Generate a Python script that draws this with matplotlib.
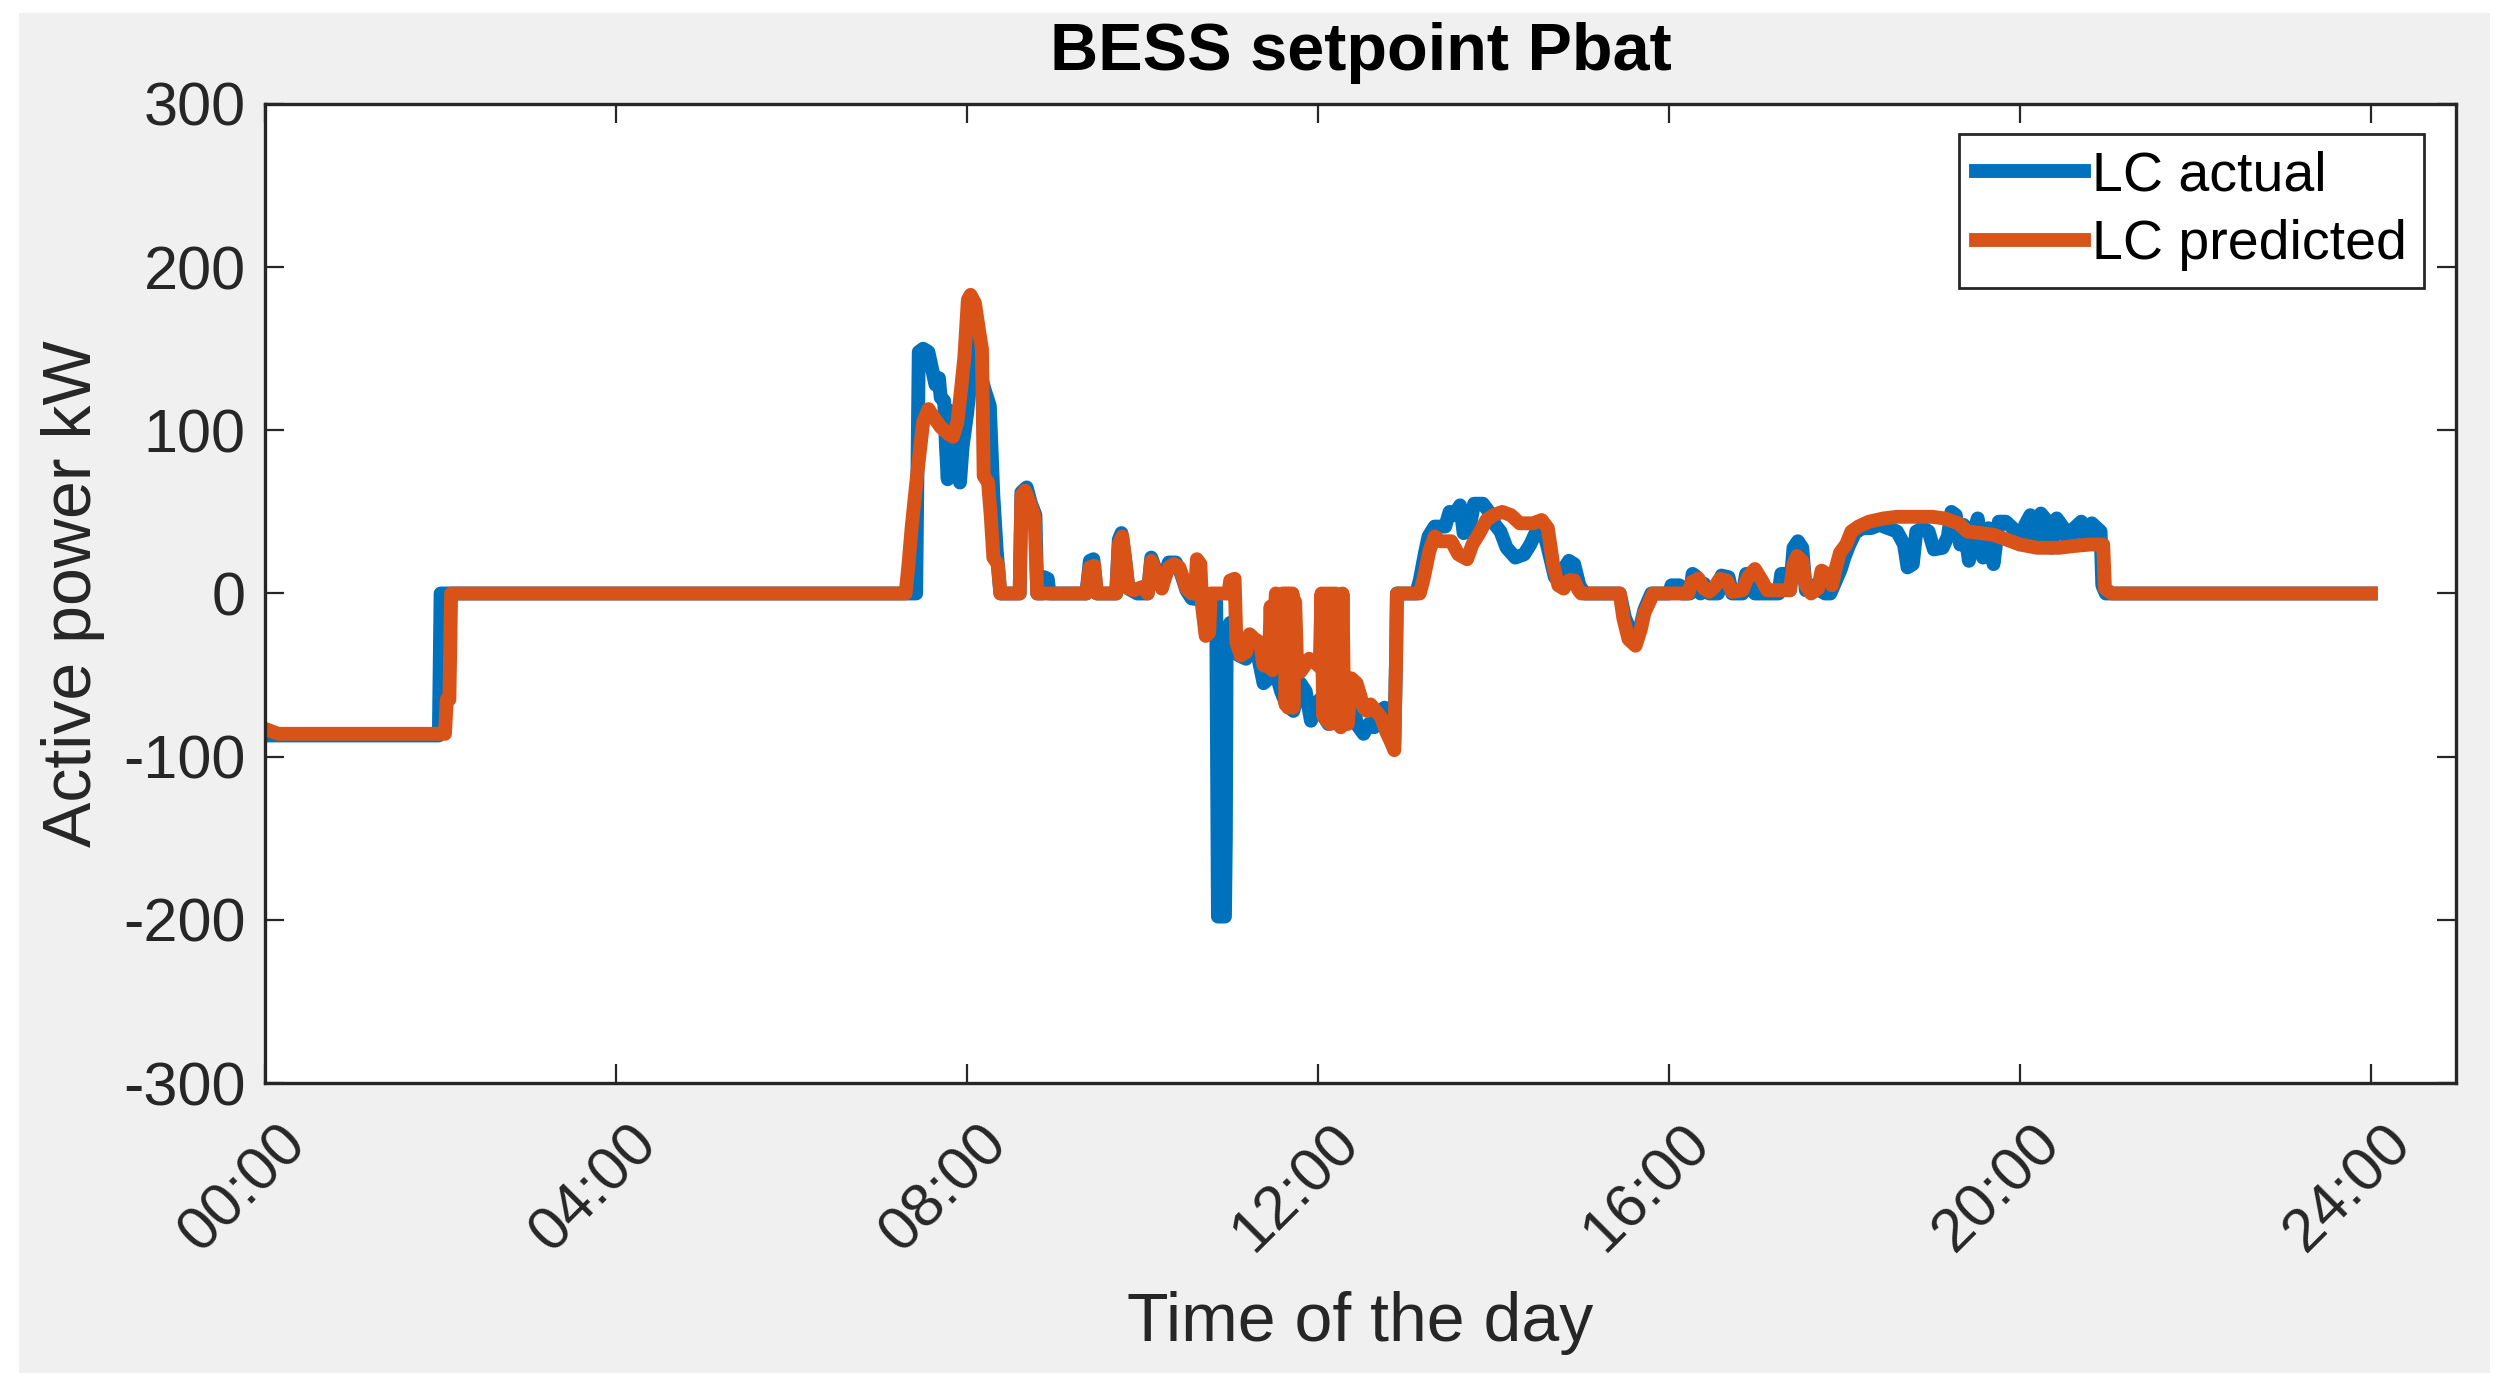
import matplotlib
matplotlib.use("Agg")
import matplotlib.pyplot as plt
import matplotlib.transforms as mtransforms
from matplotlib.patches import Rectangle

plt.rcParams['font.family'] = ['Liberation Sans', 'DejaVu Sans']
plt.rcParams['axes.unicode_minus'] = False

# time of day in hours, active power in kW
t_actual = [0, 1.98, 2.0, 7.42, 7.45, 7.50, 7.56, 7.60, 7.64, 7.68, 7.70, 7.74, 7.76, 7.78,
            7.80, 7.83, 7.86, 7.89, 7.92, 7.95, 8.0, 8.04, 8.08, 8.12, 8.15, 8.2, 8.26, 8.3,
            8.34, 8.38, 8.60, 8.62, 8.68, 8.73, 8.78, 8.80, 8.86, 8.88, 8.92, 8.94, 9.36,
            9.40, 9.44, 9.48, 9.70, 9.73, 9.76, 9.80, 9.84, 9.94, 10.06, 10.10, 10.14, 10.20,
            10.26, 10.30, 10.38, 10.44, 10.5, 10.56, 10.84, 10.86, 10.94, 10.95, 10.96, 11.0,
            11.04, 11.10, 11.18, 11.22, 11.3, 11.38, 11.44, 11.5, 11.58, 11.64, 11.72, 11.8,
            11.86, 11.92, 11.96, 12.02, 12.06, 12.12, 12.2, 12.28, 12.34, 12.4, 12.44, 12.52,
            12.58, 12.64, 12.7, 12.76, 12.82, 12.87, 12.89, 12.90, 13.12, 13.16, 13.22, 13.26,
            13.33, 13.45, 13.5, 13.55, 13.62, 13.66, 13.72, 13.78, 13.88, 13.95, 14.02, 14.08,
            14.15, 14.25, 14.35, 14.42, 14.48, 14.56, 14.62, 14.7, 14.8, 14.86, 14.92, 14.98,
            15.04, 15.44, 15.50, 15.58, 15.64, 15.72, 15.8, 16.0, 16.03, 16.12, 16.15, 16.24,
            16.27, 16.32, 16.36, 16.40, 16.46, 16.56, 16.6, 16.68, 16.72, 16.84, 16.88, 16.94,
            16.98, 17.25, 17.28, 17.34, 17.38, 17.42, 17.47, 17.52, 17.56, 17.62, 17.68, 17.78,
            17.84, 17.88, 17.92, 17.96, 18.0, 18.05, 18.12, 18.2, 18.3, 18.4, 18.5, 18.6, 18.68,
            18.72, 18.78, 18.82, 18.9, 18.96, 19.02, 19.12, 19.18, 19.22, 19.27, 19.32, 19.36,
            19.42, 19.48, 19.52, 19.58, 19.64, 19.7, 19.76, 19.84, 19.92, 20.0, 20.06, 20.12,
            20.18, 20.24, 20.3, 20.36, 20.42, 20.5, 20.56, 20.62, 20.7, 20.76, 20.82, 20.88,
            20.92, 20.94, 20.98, 24.0]
p_actual = [-87, -87, 0, 0, 148, 150, 148, 138, 128, 132, 120, 118, 90, 70,
            112, 80, 72, 100, 68, 90, 110, 130, 168, 160, 135, 125, 115, 60,
            25, 0, 0, 62, 65, 55, 48, 0, 0, 10, 9, 0, 0,
            20, 21, 0, 0, 33, 37, 22, 3, 0, 0, 22, 16, 5,
            12, 19, 19, 12, 2, -3, -5, -198, -198, -150, -22, -18,
            -25, -38, -40, -30, -34, -55, -52, -45, -60, -68, -72, -55,
            -60, -78, -72, -65, -75, -80, -78, -65, -58, -62, -80, -86,
            -80, -82, -72, -70, -85, -92, -40, 0, 0, 8, 25, 35,
            41, 41, 50, 48, 54, 37, 38, 55, 55, 50, 42, 38,
            28, 22, 24, 30, 37, 40, 28, 10, 15, 20, 18, 5,
            0, 0, -15, -25, -28, -10, 0, 0, 5, 5, 0, 0,
            12, 10, 0, 6, 0, 0, 11, 10, 0, 0, 12, 12,
            0, 0, 12, 12, 2, 28, 32, 28, 2, 5, 3, 0,
            0, 5, 10, 15, 22, 29, 37, 40, 40, 42, 40, 38, 30,
            16, 18, 38, 40, 38, 27, 28, 35, 50, 48, 30, 42,
            20, 38, 46, 22, 40, 18, 44, 44, 40, 31, 42, 48,
            30, 49, 45, 28, 46, 40, 30, 40, 44, 32, 43, 40,
            38, 5, 0, 0]

t_pred = [0, 0.15, 2.05, 2.07, 2.10, 2.12, 7.30, 7.33, 7.37, 7.43, 7.50, 7.56, 7.62, 7.70,
          7.78, 7.84, 7.89, 7.93, 7.97, 8.01, 8.04, 8.09, 8.14, 8.17, 8.19, 8.24, 8.27, 8.30,
          8.35, 8.38, 8.60, 8.62, 8.66, 8.72, 8.77, 8.80, 9.36, 9.40, 9.45, 9.48, 9.70, 9.73,
          9.77, 9.80, 9.84, 9.9, 10.0, 10.06, 10.10, 10.14, 10.18, 10.22, 10.26, 10.30, 10.36,
          10.42, 10.46, 10.5, 10.56, 10.60, 10.62, 10.66, 10.68, 10.72, 10.76, 10.78, 10.98,
          11.0, 11.05, 11.07, 11.12, 11.18, 11.22, 11.28, 11.34, 11.38, 11.44, 11.46, 11.48,
          11.52, 11.56, 11.60, 11.62, 11.63, 11.65, 11.66, 11.68, 11.69, 11.71, 11.72, 11.74,
          11.76, 11.80, 11.84, 11.90, 11.96, 12.02, 12.04, 12.06, 12.08, 12.10, 12.12, 12.14,
          12.16, 12.18, 12.20, 12.22, 12.24, 12.26, 12.28, 12.30, 12.34, 12.38, 12.44, 12.48,
          12.52, 12.56, 12.60, 12.66, 12.72, 12.78, 12.84, 12.87, 12.89, 12.90, 13.16, 13.20,
          13.27, 13.33, 13.40, 13.52, 13.60, 13.70, 13.76, 13.84, 13.92, 14.0, 14.1, 14.2,
          14.3, 14.45, 14.55, 14.62, 14.68, 14.74, 14.8, 14.86, 14.92, 14.97, 15.0, 15.44,
          15.48, 15.54, 15.62, 15.68, 15.72, 15.78, 15.82, 16.22, 16.26, 16.34, 16.40, 16.46,
          16.52, 16.58, 16.66, 16.72, 16.84, 16.9, 16.98, 17.06, 17.12, 17.38, 17.42, 17.46,
          17.52, 17.56, 17.62, 17.7, 17.74, 17.80, 17.86, 17.90, 17.95, 18.02, 18.08, 18.16,
          18.28, 18.45, 18.6, 19.0, 19.14, 19.3, 19.4, 19.7, 19.85, 20.0, 20.2, 20.45, 20.6,
          20.8, 20.95, 20.97, 21.05, 24.0]
p_pred = [-83, -86, -86, -65, -65, 0, 0, 16, 41, 72, 105, 113, 108, 102,
          98, 96, 105, 124, 145, 180, 183, 178, 160, 150, 72, 68, 48, 22,
          18, 0, 0, 60, 63, 55, 47, 0, 0, 16, 17, 0, 0, 30,
          35, 22, 3, 2, 4, 0, 20, 15, 8, 3, 10, 16, 18,
          16, 10, 3, 0, 0, 21, 18, -8, -26, -24, 0, 0,
          8, 9, -30, -38, -36, -25, -28, -30, -44, -45, -8, -47,
          0, -45, 0, 0, -68, 0, -70, 0, -66, 0, -70, -5,
          -40, -48, -45, -40, -42, -45, 0, -75, 0, -78, 0, -80,
          0, -78, 0, -80, -15, -82, 0, -80, -80, -52, -55, -62,
          -70, -72, -68, -72, -76, -85, -92, -96, -40, 0, 0, 8,
          26, 35, 32, 32, 24, 21, 30, 37, 45, 48, 50, 48,
          43, 43, 45, 40, 18, 5, 3, 8, 8, 2, 0, 0,
          -15, -28, -32, -22, -12, -5, 0, 0, 7, 9, 3, 1,
          4, 9, 8, 1, 2, 10, 15, 8, 2, 2, 18, 23,
          20, 5, 0, 3, 14, 12, 5, 15, 25, 30, 38, 41,
          44, 46, 47, 47, 46, 43, 38, 36, 33, 30, 28, 28, 29,
          30, 30, 3, 0, 0]

hour_ticks = [0, 4, 8, 12, 16, 20, 24]
hour_labels = ['00:00', '04:00', '08:00', '12:00', '16:00', '20:00', '24:00']
power_ticks = [-300, -200, -100, 0, 100, 200, 300]

fig = plt.figure(figsize=(25.06, 13.86), dpi=100, facecolor='white')
# grey MATLAB style figure panel, kept behind the axes
panel = Rectangle((0.0076, 0.0094), 0.986, 0.9812, transform=fig.transFigure,
                  facecolor='#f0f0f0', edgecolor='none', zorder=-10)
fig.add_artist(panel)

ax = fig.add_axes([0.1058, 0.2186, 0.8742, 0.7064])
ax.set_zorder(1)
ax.plot(t_actual, p_actual, color='#0072BD', lw=10, label='LC actual')
ax.plot(t_pred, p_pred, color='#D95319', lw=10, label='LC predicted')

ax.set_xlim(0, 24.97)
ax.set_ylim(-300, 300)
ax.set_xticks(hour_ticks)
ax.set_xticklabels(hour_labels, rotation=45, ha='right', va='center', rotation_mode='anchor')
ax.set_yticks(power_ticks)
ax.tick_params(direction='in', length=14, width=1.6, labelsize=44, colors='#262626',
               top=True, right=True, pad=14)
# nudge the rotated hour labels like MATLAB places them
shift = mtransforms.ScaledTranslation(0.32, -0.32, fig.dpi_scale_trans)
for lbl in ax.get_xticklabels():
    lbl.set_transform(lbl.get_transform() + shift)
for side in ax.spines.values():
    side.set_linewidth(2.4)
    side.set_color('#262626')

ax.set_title('BESS setpoint Pbat', fontsize=48, fontweight='bold', y=1.052, va='center', pad=0)
ax.set_xlabel('Time of the day', fontsize=49, color='#262626', va='center')
ax.xaxis.set_label_coords(0.5, -0.245)
ax.set_ylabel('Active power kW', fontsize=49, color='#262626', va='center')
ax.yaxis.set_label_coords(-0.0875, 0.5)

leg = ax.legend(loc='upper right', bbox_to_anchor=(0.9854, 0.9693), borderaxespad=0,
                fontsize=40, handlelength=1.95, handletextpad=0.15, labelspacing=0.3,
                borderpad=0.3, fancybox=False, framealpha=1)
leg.get_frame().set_edgecolor('#262626')
leg.get_frame().set_linewidth(2.0)

fig.savefig('out.png', dpi=100, facecolor=fig.get_facecolor())
